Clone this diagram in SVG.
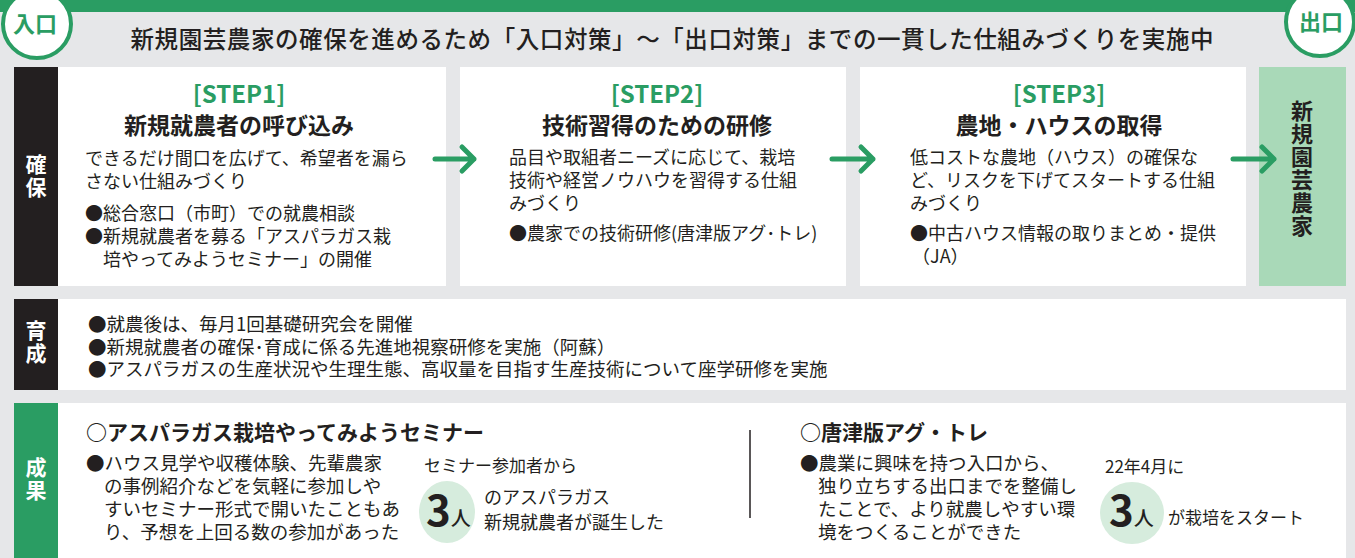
<svg xmlns="http://www.w3.org/2000/svg" width="1355" height="558" viewBox="0 0 1355 558">
<defs>
<style>
text{font-family:"Noto Sans CJK JP","Noto Sans",sans-serif;fill:#231f20}
.t{font-size:18px}
.t2{font-size:18.5px}
.t3{font-size:18.5px}
.s{font-size:17px}
.h{font-size:23px;font-weight:700;text-anchor:middle}
.st{font-size:24px;font-weight:700;fill:#2a9d63;text-anchor:middle}
.lab{font-size:21px;font-weight:700;fill:#fff;writing-mode:vertical-rl;letter-spacing:2px}
.vert{font-size:22px;font-weight:700;writing-mode:vertical-rl;letter-spacing:1px}
.sub{font-size:21px;font-weight:700}
.big{font-size:42px;font-weight:700}
.ppl{font-size:20px;font-weight:500}
.arr{fill:none;stroke:#2a9d63;stroke-width:5;stroke-linecap:round;stroke-linejoin:round}
</style>
</defs>
<rect x="0" y="0" width="1355" height="558" fill="#e6e7e9"/>
<rect x="0" y="0" width="1355" height="12" fill="#2a9d63"/>
<g id="entrance">
<circle cx="37" cy="24" r="34" fill="#fff" stroke="#2a9d63" stroke-width="4"/>
<text x="35" y="32" font-size="22" font-weight="700" text-anchor="middle" style="fill:#2a9d63">入口</text>
</g>
<g id="exit">
<circle cx="1320" cy="22" r="34" fill="#fff" stroke="#2a9d63" stroke-width="4"/>
<text x="1321" y="30" font-size="22" font-weight="700" text-anchor="middle" style="fill:#2a9d63">出口</text>
</g>
<text x="672" y="48" font-size="23.5" font-weight="500" text-anchor="middle" textLength="1083" lengthAdjust="spacing">新規園芸農家の確保を進めるため「入口対策」～「出口対策」までの一貫した仕組みづくりを実施中</text>

<g id="label-kakuho">
<rect x="14" y="67" width="44" height="219" fill="#231f20"/>
<text class="lab" x="36" y="154">確保</text>
</g>
<g id="step1">
<rect x="58" y="67" width="388" height="219" fill="#fff"/>
<text class="st" x="239" y="103">[STEP1]</text>
<text class="h" x="239" y="134">新規就農者の呼び込み</text>
<text class="t" x="85" y="165">できるだけ間口を広げて、希望者を漏ら<tspan x="85" dy="23">さない仕組みづくり</tspan></text>
<text class="t" x="85" y="220">●総合窓口（市町）での就農相談<tspan x="85" dy="23">●新規就農者を募る「アスパラガス栽</tspan><tspan x="103" dy="23">培やってみようセミナー」の開催</tspan></text>
</g>
<g id="step2">
<rect x="460" y="67" width="386" height="219" fill="#fff"/>
<text class="st" x="657" y="103">[STEP2]</text>
<text class="h" x="657" y="134">技術習得のための研修</text>
<text class="t" x="509" y="164">品目や取組者ニーズに応じて、栽培<tspan x="509" dy="23">技術や経営ノウハウを習得する仕組</tspan><tspan x="509" dy="23">みづくり</tspan></text>
<text class="t" x="509" y="240">●農家での技術研修(唐津版アグ･トレ)</text>
</g>
<g id="step3">
<rect x="860" y="67" width="386" height="219" fill="#fff"/>
<text class="st" x="1059" y="103">[STEP3]</text>
<text class="h" x="1059" y="134">農地・ハウスの取得</text>
<text class="t" x="910" y="164">低コストな農地（ハウス）の確保な<tspan x="910" dy="23">ど、リスクを下げてスタートする仕組</tspan><tspan x="910" dy="23">みづくり</tspan></text>
<text class="t" x="910" y="240">●中古ハウス情報の取りまとめ・提供<tspan x="912" dy="23">（JA）</tspan></text>
</g>
<g id="new-farmer">
<rect x="1259" y="67" width="87" height="219" fill="#a9d9b8"/>
<text class="vert" x="1302" y="100">新規園芸農家</text>
</g>
<g id="connectors">
<path class="arr" d="M435 159H474M462 147L474 159L462 171"/>
<path class="arr" d="M832 159H873M861 147L873 159L861 171"/>
<path class="arr" d="M1233 159H1274M1262 147L1274 159L1262 171"/>
</g>

<g id="label-ikusei">
<rect x="14" y="299" width="44" height="91" fill="#231f20"/>
<text class="lab" x="36" y="320">育成</text>
</g>
<g id="ikusei">
<rect x="58" y="299" width="1288" height="91" fill="#fff"/>
<text class="t2" x="88" y="331">●就農後は、毎月1回基礎研究会を開催<tspan x="88" dy="22.5">●新規就農者の確保･育成に係る先進地視察研修を実施（阿蘇）</tspan><tspan x="88" dy="22.5">●アスパラガスの生産状況や生理生態、高収量を目指す生産技術について座学研修を実施</tspan></text>
</g>

<g id="label-seika">
<rect x="14" y="403" width="44" height="155" fill="#2a9d63"/>
<text class="lab" x="36" y="457">成果</text>
</g>
<g id="seika">
<rect x="58" y="403" width="1288" height="155" fill="#fff"/>
<text class="sub" x="86" y="440">○アスパラガス栽培やってみようセミナー</text>
<text class="t3" x="86" y="470">●ハウス見学や収穫体験、先輩農家<tspan x="104" dy="23">の事例紹介などを気軽に参加しや</tspan><tspan x="104" dy="23">すいセミナー形式で開いたこともあ</tspan><tspan x="104" dy="23">り、予想を上回る数の参加があった</tspan></text>
<text class="s" x="424" y="472">セミナー参加者から</text>
<ellipse cx="447" cy="512" rx="28" ry="31" fill="#d6ecdd"/>
<text x="426" y="526"><tspan class="big">3</tspan><tspan class="ppl">人</tspan></text>
<text class="t" x="484" y="504">のアスパラガス<tspan x="484" dy="25">新規就農者が誕生した</tspan></text>
<line x1="750" y1="430" x2="750" y2="518" stroke="#231f20" stroke-width="1.5"/>
<text class="sub" x="800" y="440">○唐津版アグ・トレ</text>
<text class="t3" x="800" y="470">●農業に興味を持つ入口から、<tspan x="818" dy="23">独り立ちする出口までを整備し</tspan><tspan x="818" dy="23">たことで、より就農しやすい環</tspan><tspan x="818" dy="23">境をつくることができた</tspan></text>
<text class="s" x="1105" y="473">22年4月に</text>
<ellipse cx="1132" cy="513" rx="32" ry="31" fill="#d6ecdd"/>
<text x="1109" y="526"><tspan class="big">3</tspan><tspan class="ppl">人</tspan></text>
<text class="s" x="1168" y="524">が栽培をスタート</text>
</g>
</svg>
